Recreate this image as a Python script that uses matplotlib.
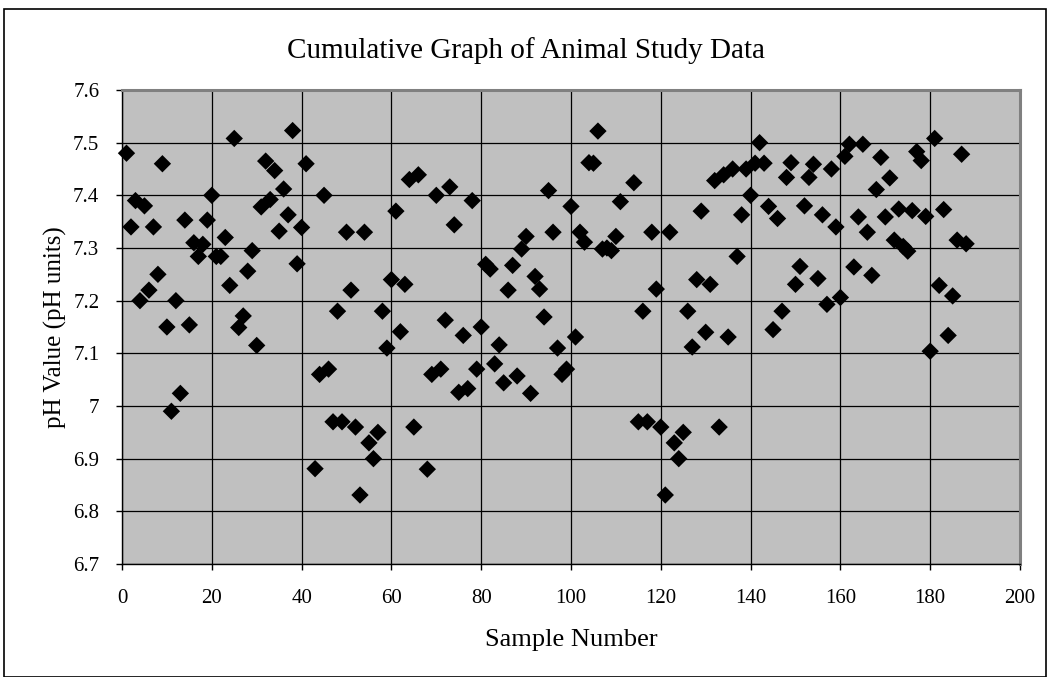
import numpy as np
import matplotlib
matplotlib.use("Agg")
import matplotlib.pyplot as plt
from matplotlib.patches import Rectangle

nan = np.nan
sample_numbers = list(range(1, 189))
ph_values = [
    7.48, 7.34, 7.39, 7.20, 7.38, 7.22, 7.34, 7.25, 7.46, 7.15,      # 1-10
    6.99, 7.20, 7.024, 7.353, 7.154, 7.31, 7.284, 7.307, 7.353, 7.40,  # 11-20
    7.284, 7.284, 7.32, 7.229, 7.508, 7.149, 7.171, 7.256, 7.295, 7.115,  # 21-30
    7.378, 7.465, 7.392, 7.447, 7.332, 7.412, 7.363, 7.523, 7.27, 7.339,  # 31-40
    7.46, nan, 6.881, 7.06, 7.40, 7.07, 6.97, 7.18, 6.97, 7.33,      # 41-50
    7.22, 6.96, 6.831, 7.33, 6.93, 6.90, 6.95, 7.18, 7.11, 7.24,     # 51-60
    7.37, 7.141, 7.231, 7.43, 6.96, 7.439, nan, 6.88, 7.06, 7.40,    # 61-70
    7.07, 7.163, 7.416, 7.344, 7.026, 7.134, 7.033, 7.39, 7.07, 7.15,  # 71-80
    7.269, 7.26, 7.08, 7.116, 7.044, 7.22, 7.267, 7.057, 7.298, 7.322,  # 81-90
    7.024, 7.246, 7.222, 7.169, 7.409, 7.33, 7.11, 7.06, 7.07, 7.379,  # 91-100
    7.131, 7.33, 7.311, 7.462, 7.461, 7.522, 7.298, 7.30, 7.295, 7.322,  # 101-110
    7.388, nan, nan, 7.424, 6.97, 7.18, 6.97, 7.33, 7.222, 6.96,     # 111-120
    6.831, 7.33, 6.93, 6.90, 6.95, 7.18, 7.112, 7.24, 7.37, 7.14,    # 121-130
    7.231, 7.428, 6.96, 7.439, 7.131, 7.45, 7.284, 7.363, 7.45, 7.40,  # 131-140
    7.461, 7.50, 7.461, 7.379, 7.145, 7.356, 7.18, 7.434, 7.462, 7.231,  # 141-150
    7.265, 7.38, 7.434, 7.459, 7.242, 7.363, 7.193, 7.45, 7.34, 7.206,  # 151-160
    7.474, 7.497, 7.264, 7.359, 7.497, 7.33, 7.248, 7.411, 7.472, 7.359,  # 161-170
    7.433, 7.315, 7.374, 7.303, 7.294, 7.371, 7.483, 7.466, 7.36, 7.104,  # 171-180
    7.508, 7.229, 7.373, 7.134, 7.209, 7.315, 7.478, 7.308,          # 181-188
]

title = "Cumulative Graph of Animal Study Data"
x_label = "Sample Number"
y_label = "pH Value (pH units)"
x_ticks = [0, 20, 40, 60, 80, 100, 120, 140, 160, 180, 200]
y_ticks = [6.7, 6.8, 6.9, 7.0, 7.1, 7.2, 7.3, 7.4, 7.5, 7.6]
y_tick_labels = ["6.7", "6.8", "6.9", "7", "7.1", "7.2", "7.3", "7.4", "7.5", "7.6"]

plt.rcParams['font.family'] = ['Liberation Serif', 'DejaVu Serif']

W, H = 1052, 677
fig = plt.figure(figsize=(W / 100, H / 100), dpi=100)
fig.patch.set_facecolor('white')

left, right, top, bottom = 122, 1020, 90, 564
ax = fig.add_axes([left / W, 1 - bottom / H, (right - left) / W, (bottom - top) / H])
ax.set_facecolor('#C0C0C0')

ax.scatter(sample_numbers, ph_values, marker='D', s=78, color='black',
           edgecolors='none', zorder=3, clip_on=False)

ax.set_xlim(0, 200)
ax.set_ylim(6.7, 7.6)
ax.set_xticks(x_ticks)
ax.set_yticks(y_ticks)
ax.set_yticklabels(y_tick_labels)
ax.grid(True, color='black', linewidth=0.9, zorder=1)
ax.set_axisbelow(True)

for side in ['top', 'right']:
    ax.spines[side].set_color('#808080')
    ax.spines[side].set_linewidth(2.2)
for side in ['left', 'bottom']:
    ax.spines[side].set_color('black')
    ax.spines[side].set_linewidth(1.0)

ax.tick_params(axis='both', direction='out', length=4.3, width=1.0, color='black',
               labelsize=15)
ax.tick_params(axis='y', pad=12)
ax.tick_params(axis='x', pad=13.5)

ax.set_xlabel(x_label, fontsize=19)
ax.set_ylabel(y_label, fontsize=18)
ax.xaxis.set_label_coords(0.5, -76 / (bottom - top))
ax.xaxis.label.set_va('center')
ax.yaxis.set_label_coords(-67 / (right - left), 0.5)
ax.yaxis.label.set_va('center')

fig.text(0.5, 1 - 58 / H, title, ha='center', va='baseline', fontsize=21)

fig.patches.append(Rectangle((4 / W, 0.0), (1046 - 4) / W, 1 - 9 / H,
                             transform=fig.transFigure, fill=False,
                             edgecolor='black', linewidth=1.2))

fig.savefig('out.png', dpi=100)
